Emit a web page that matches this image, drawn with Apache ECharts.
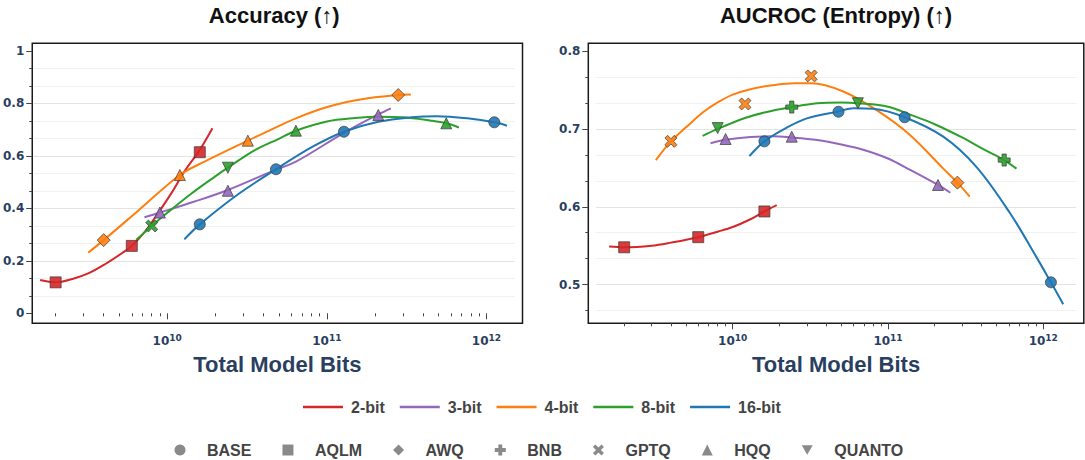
<!DOCTYPE html>
<html>
<head>
<meta charset="utf-8">
<script src="https://cdn.jsdelivr.net/npm/echarts@6/dist/echarts.min.js"></script>
<style>
  html, body { margin: 0; padding: 0; background: #fff; }
  #chart { width: 1085px; height: 460px; }
</style>
</head>
<body>
<div id="chart"></div>
<script>
const precisions = ['2-bit', '3-bit', '4-bit', '8-bit', '16-bit'];
const methods = ['BASE', 'AQLM', 'AWQ', 'BNB', 'GPTQ', 'HQQ', 'QUANTO'];

const xTickBits = [1e10, 1e11, 1e12];
const accTicks = [0, 0.2, 0.4, 0.6, 0.8, 1];
const aucTicks = [0.5, 0.6, 0.7, 0.8];

// fitted trend curves: [total model bits, score]
const accCurve2 = [[1.6e9, 0.127], [2e9, 0.118], [2.55e9, 0.131], [3.2e9, 0.152], [4.1e9, 0.188], [5.2e9, 0.229],
  [6e9, 0.257], [7.25e9, 0.311], [8.75e9, 0.381], [1.06e10, 0.457], [1.28e10, 0.540], [1.6e10, 0.623], [1.92e10, 0.705]];
const accCurve3 = [[7.2e9, 0.366], [9e9, 0.384], [1.47e10, 0.425], [2.4e10, 0.470], [4.6e10, 0.543], [6.4e10, 0.578],
  [1.28e11, 0.688], [2.1e11, 0.758], [2.52e11, 0.781]];
const accCurve4 = [[3.2e9, 0.231], [4e9, 0.279], [6.6e9, 0.392], [1.2e10, 0.527], [1.7e10, 0.577], [3.2e10, 0.658],
  [4e10, 0.686], [6.4e10, 0.743], [1.03e11, 0.788], [1.66e11, 0.816], [2.8e11, 0.832], [3.36e11, 0.834]];
const accCurve8 = [[6.4e9, 0.280], [8e9, 0.333], [1e10, 0.383], [1.4e10, 0.454], [2e10, 0.522], [2.4e10, 0.555],
  [3.5e10, 0.620], [5e10, 0.665], [6.4e10, 0.696], [1e11, 0.731], [1.5e11, 0.744], [2.1e11, 0.749],
  [3e11, 0.747], [4.5e11, 0.734], [5.6e11, 0.724], [6.72e11, 0.708]];
const accCurve16 = [[1.28e10, 0.282], [1.6e10, 0.339], [2.74e10, 0.451], [4.8e10, 0.549], [8.15e10, 0.635],
  [1.28e11, 0.692], [2.1e11, 0.730], [3.4e11, 0.747], [4.9e11, 0.751], [7.6e11, 0.743], [1.12e12, 0.728], [1.344e12, 0.715]];

const aucCurve2 = [[1.6e9, 0.549], [2e9, 0.548], [3e9, 0.550], [4e9, 0.554], [6e9, 0.561], [8e9, 0.568],
  [1e10, 0.574], [1.3e10, 0.584], [1.6e10, 0.594], [1.92e10, 0.602]];
const aucCurve3 = [[7.2e9, 0.6815], [9e9, 0.686], [1.3e10, 0.6896], [1.8e10, 0.6905], [2.4e10, 0.689], [3.5e10, 0.6857],
  [5e10, 0.680], [7e10, 0.673], [1e11, 0.662], [1.4e11, 0.647], [2.1e11, 0.628], [2.52e11, 0.618]];
const aucCurve4 = [[3.2e9, 0.660], [4e9, 0.684], [5e9, 0.702], [6.5e9, 0.722], [8e9, 0.734], [1e10, 0.744],
  [1.3e10, 0.751], [1.8e10, 0.756], [2.5e10, 0.7585], [3.2e10, 0.7585], [5.15e10, 0.748], [8.45e10, 0.724],
  [1.39e11, 0.692], [2.27e11, 0.649], [2.8e11, 0.631], [3.36e11, 0.613]];
const aucCurve8 = [[6.4e9, 0.691], [8e9, 0.700], [1.2e10, 0.714], [1.6e10, 0.721], [2.4e10, 0.728], [3.5e10, 0.733],
  [5e10, 0.734], [6.4e10, 0.733], [1e11, 0.7285], [1.4e11, 0.718], [2e11, 0.706], [3e11, 0.689],
  [4.2e11, 0.673], [5.6e11, 0.660], [6.72e11, 0.649]];
const aucCurve16 = [[1.28e10, 0.665], [1.6e10, 0.684], [2.2e10, 0.701], [3e10, 0.7135], [4.8e10, 0.7225],
  [6e10, 0.7265], [8e10, 0.7258], [1.28e11, 0.715], [2.27e11, 0.690], [3.72e11, 0.651], [6.1e11, 0.592],
  [9e11, 0.536], [1.12e12, 0.503], [1.344e12, 0.475]];

// measured models: [total model bits, score, method]
const accPts2 = [[2e9, 0.118, 'AQLM'], [6e9, 0.257, 'AQLM'], [1.6e10, 0.614, 'AQLM']];
const accPts3 = [[9e9, 0.384, 'HQQ'], [2.4e10, 0.467, 'HQQ'], [2.1e11, 0.756, 'HQQ']];
const accPts4 = [[4e9, 0.279, 'AWQ'], [1.2e10, 0.527, 'HQQ'], [3.2e10, 0.658, 'HQQ'], [2.8e11, 0.832, 'AWQ']];
const accPts8 = [[8e9, 0.333, 'GPTQ'], [2.4e10, 0.555, 'QUANTO'], [6.4e10, 0.696, 'HQQ'], [5.6e11, 0.724, 'HQQ']];
const accPts16 = [[1.6e10, 0.339, 'BASE'], [4.8e10, 0.549, 'BASE'], [1.28e11, 0.692, 'BASE'], [1.12e12, 0.728, 'BASE']];

const aucPts2 = [[2e9, 0.548, 'AQLM'], [6e9, 0.561, 'AQLM'], [1.6e10, 0.594, 'AQLM']];
const aucPts3 = [[9e9, 0.687, 'HQQ'], [2.4e10, 0.690, 'HQQ'], [2.1e11, 0.628, 'HQQ']];
const aucPts4 = [[4e9, 0.684, 'GPTQ'], [1.2e10, 0.732, 'GPTQ'], [3.2e10, 0.768, 'GPTQ'], [2.8e11, 0.631, 'AWQ']];
const aucPts8 = [[8e9, 0.701, 'QUANTO'], [2.4e10, 0.728, 'BNB'], [6.4e10, 0.733, 'QUANTO'], [5.6e11, 0.660, 'BNB']];
const aucPts16 = [[1.6e10, 0.684, 'BASE'], [4.8e10, 0.722, 'BASE'], [1.28e11, 0.715, 'BASE'], [1.12e12, 0.503, 'BASE']];

const FONT = '"Liberation Sans", Arial, sans-serif';
const TICK_FONT = '"DejaVu Sans", Verdana, sans-serif';
const INK = '#2a3f5f';
const lineColors = ['#d62728', '#9467bd', '#ff7f0e', '#2ca02c', '#1f77b4'];
const symbolOf = {
  BASE: 'circle',
  AQLM: 'rect',
  AWQ: 'diamond',
  BNB: 'path://M-1.2,-3.4H1.2V-1.2H3.4V1.2H1.2V3.4H-1.2V1.2H-3.4V-1.2H-1.2Z',
  GPTQ: 'path://M-3.4,-1.9L-1.9,-3.4L0,-1.5L1.9,-3.4L3.4,-1.9L1.5,0L3.4,1.9L1.9,3.4L0,1.5L-1.9,3.4L-3.4,1.9L-1.5,0Z',
  HQQ: 'triangle',
  QUANTO: 'path://M-5,-4L5,-4L0,4.5Z'
};
const sizeOf = {BASE: 11, AQLM: 11, AWQ: 13, BNB: 12, GPTQ: 12, HQQ: 11, QUANTO: 11};

const panels = [
  {
    title: 'Accuracy (↑)',
    frame: {left: 26, top: 43.3, width: 496.5, height: 280},
    xRange: [9.1546, 12.2257],
    yRange: [-0.038, 1.029],
    yTicks: accTicks,
    gridSpan: [0.01, 0.99],
    curves: [accCurve2, accCurve3, accCurve4, accCurve8, accCurve16],
    points: [accPts2, accPts3, accPts4, accPts8, accPts16]
  },
  {
    title: 'AUCROC (Entropy) (↑)',
    frame: {left: 588.3, top: 43.3, width: 495.5, height: 280},
    xRange: [9.070, 12.261],
    yRange: [0.4504, 0.8099],
    yTicks: aucTicks,
    gridSpan: [0.46, 0.79],
    curves: [aucCurve2, aucCurve3, aucCurve4, aucCurve8, aucCurve16],
    points: [aucPts2, aucPts3, aucPts4, aucPts8, aucPts16]
  }
];

const round6 = v => Math.round(v * 1e6) / 1e6;

function minorX(range) {
  const out = [];
  for (let d = 8; d <= 12; d++) {
    for (let k = 2; k <= 9; k++) {
      const e = Math.log10(k * Math.pow(10, d));
      if (e > range[0] && e < range[1]) out.push(e);
    }
  }
  return out;
}

function thirds(ticks, range) {
  const step = ticks[1] - ticks[0];
  const out = [];
  for (let v = ticks[0] - step; v <= ticks[ticks.length - 1] + step + 1e-9; v += step / 3) {
    const r = round6(v);
    if (r >= range[0] && r <= range[1]) out.push(r);
  }
  return out;
}

const option = {
  animation: false,
  backgroundColor: '#fff',
  title: [],
  grid: [],
  xAxis: [],
  yAxis: [],
  series: [],
  legend: [
    {
      data: precisions,
      left: 303, top: 399, padding: 0,
      itemGap: 15, itemWidth: 40, itemHeight: 2.5, icon: 'rect',
      selectedMode: false,
      textStyle: {fontFamily: FONT, fontSize: 16, fontWeight: 'bold', color: '#444', padding: [0, 0, 0, 3]}
    },
    {
      data: methods,
      left: 174.5, top: 442, padding: 0,
      itemGap: 31, itemWidth: 11, itemHeight: 11,
      selectedMode: false,
      itemStyle: {color: '#8a8a8a', borderWidth: 0, opacity: 1},
      textStyle: {fontFamily: FONT, fontSize: 16, fontWeight: 'bold', color: '#444', padding: [0, 0, 0, 16.5]}
    }
  ]
};

const xMajor = xTickBits.map(b => Math.log10(b));

panels.forEach(p => {
  const f = p.frame;
  option.title.push({
    text: p.title,
    left: f.left + f.width / 2, top: 4, padding: 0, textAlign: 'center',
    textStyle: {fontFamily: FONT, fontSize: 22, fontWeight: 'bold', color: '#111'}
  });

  const frameGrid = option.grid.length;
  option.grid.push({left: f.left, top: f.top, width: f.width, height: f.height,
    show: true, borderColor: '#1a1a1a', borderWidth: 1.5, backgroundColor: 'transparent'});
  const innerGrid = option.grid.length;
  option.grid.push({left: f.left + 7.5, top: f.top, width: f.width - 15, height: f.height});

  const xMain = option.xAxis.length;
  option.xAxis.push({
    gridIndex: frameGrid, type: 'value', position: 'bottom',
    min: p.xRange[0], max: p.xRange[1],
    axisLine: {show: false}, splitLine: {show: false},
    axisTick: {customValues: xMajor, length: 6, lineStyle: {color: '#444'}},
    axisLabel: {
      customValues: xMajor, margin: 10,
      formatter: v => '{b|10}{s|' + Math.round(v) + '}',
      rich: {
        b: {fontFamily: TICK_FONT, fontSize: 12, fontWeight: 'bold', color: INK, lineHeight: 14, verticalAlign: 'bottom'},
        s: {fontFamily: TICK_FONT, fontSize: 9, fontWeight: 'bold', color: INK, lineHeight: 11, padding: [0, 0, 6, 0], verticalAlign: 'top'}
      }
    },
    name: 'Total Model Bits', nameLocation: 'middle', nameGap: 27,
    nameTextStyle: {fontFamily: FONT, fontSize: 22, fontWeight: 'bold', color: INK}
  });
  option.xAxis.push({
    gridIndex: frameGrid, type: 'value', position: 'bottom',
    min: p.xRange[0], max: p.xRange[1],
    axisLine: {show: false}, splitLine: {show: false}, axisLabel: {show: false},
    axisTick: {customValues: minorX(p.xRange), length: 3, lineStyle: {color: '#444'}}
  });
  option.xAxis.push({gridIndex: innerGrid, type: 'value', show: false, min: p.xRange[0], max: p.xRange[1]});

  const allY = thirds(p.yTicks, p.yRange);
  const minorY = allY.filter(v => !p.yTicks.some(t => Math.abs(t - v) < 1e-6));
  const inSpan = v => v > p.gridSpan[0] && v < p.gridSpan[1];

  const yMain = option.yAxis.length;
  option.yAxis.push({
    gridIndex: frameGrid, type: 'value', position: 'left',
    min: p.yRange[0], max: p.yRange[1],
    axisLine: {show: false}, splitLine: {show: false},
    axisTick: {customValues: p.yTicks, length: 6, lineStyle: {color: '#444'}},
    axisLabel: {customValues: p.yTicks, margin: 8, formatter: v => String(v),
      fontFamily: TICK_FONT, fontSize: 12, fontWeight: 'bold', color: INK}
  });
  option.yAxis.push({
    gridIndex: frameGrid, type: 'value', position: 'left',
    min: p.yRange[0], max: p.yRange[1],
    axisLine: {show: false}, splitLine: {show: false}, axisLabel: {show: false},
    axisTick: {customValues: minorY, length: 3, lineStyle: {color: '#444'}}
  });
  option.yAxis.push({
    gridIndex: innerGrid, type: 'value', position: 'left',
    min: p.yRange[0], max: p.yRange[1],
    axisLine: {show: false}, axisLabel: {show: false},
    axisTick: {show: false, customValues: p.yTicks.filter(inSpan)},
    splitLine: {show: true, lineStyle: {color: '#e3e3e3', width: 1}}
  });
  option.yAxis.push({
    gridIndex: innerGrid, type: 'value', position: 'left',
    min: p.yRange[0], max: p.yRange[1],
    axisLine: {show: false}, axisLabel: {show: false},
    axisTick: {show: false, customValues: minorY.filter(inSpan)},
    splitLine: {show: true, lineStyle: {color: '#f1f1f1', width: 1}}
  });

  precisions.forEach((name, i) => {
    option.series.push({
      type: 'line', name,
      xAxisIndex: xMain, yAxisIndex: yMain,
      data: p.curves[i].map(([bits, v]) => [Math.log10(bits), v]),
      smooth: 0.35, symbol: 'none', silent: true, z: 2,
      lineStyle: {color: lineColors[i], width: 2},
      itemStyle: {color: lineColors[i]}
    });
  });

  methods.forEach(m => {
    const data = [];
    p.points.forEach((pts, i) => {
      pts.forEach(([bits, v, method]) => {
        if (method === m) data.push({value: [Math.log10(bits), v], itemStyle: {color: lineColors[i]}});
      });
    });
    option.series.push({
      type: 'scatter', name: m,
      xAxisIndex: xMain, yAxisIndex: yMain,
      symbol: symbolOf[m], symbolSize: sizeOf[m], z: 3, data,
      itemStyle: {color: '#8a8a8a', borderColor: '#3a3a3a', borderWidth: 0.8, opacity: 0.9}
    });
  });
});

const chart = echarts.init(document.getElementById('chart'), null, {renderer: 'svg'});
chart.setOption(option);
</script>
</body>
</html>
